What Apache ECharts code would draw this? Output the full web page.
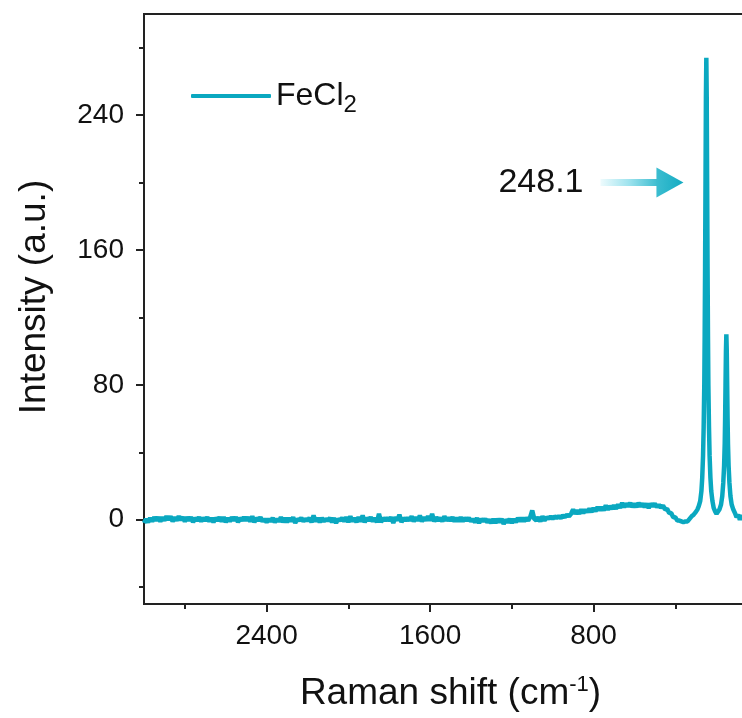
<!DOCTYPE html>
<html lang="en">
<head>
    <meta charset="UTF-8">
    <title>FeCl2 Raman</title>
    <style>
        * { box-sizing: border-box; margin: 0; padding: 0; }
        body { background: #fff; }
        #chart { width: 742px; height: 718px; }
    </style>
    <script src="https://cdn.jsdelivr.net/npm/echarts@6/dist/echarts.min.js"></script>
</head>
<body>
    <div id="chart"></div>
    <script>
        // baseline: Raman shift 3000 -> 330 cm-1 in steps of 10, intensity
        const baseStart = 3000;
        const baseStep = 10;
        const baseline = [
            -2, 0.5, -1.5, 1, -1, 1.5, -0.5, 1.5, -1, 1.5,
            -0.5, 2, 0, 2, -1, 1.5, -0.5, 2, 0, 1.5,
            -1, 1.5, -0.5, 1.5, -1.5, 1, -0.5, 1.5, -1, 1,
            -0.5, 1.5, -1, 1, -1.5, 1, -0.5, 1.5, -1, 1.5,
            -1.5, 1, -1, 1.5, -0.5, 1.5, -1.5, 1, -0.5, 1.5,
            -0.5, 1.5, -1, 2, -1.5, 1, -0.5, 1.5, -1, 0.5,
            -1.5, 0.5, -1, 1, -1.5, 0.5, -1, 1.5, -1.5, 1,
            -1.5, 1, -1, 1.5, -2, 0.5, -0.5, 1, -1, 0.5,
            -0.5, 1, -1.5, 2.5, -1, 1, -1.5, 1, -1, 0.5,
            -0.5, 1, -1.5, 1, -2, 0.5, -0.5, 1, -1, 1.5,
            -1.5, 2, -1, 1, -1.5, 1.5, -1, 2.5, -1.5, 1,
            -0.5, 1.5, -1, 1, -1.5, 3.5, -1.5, 1, -0.5, 1,
            -0.5, 1.5, -2, 1.5, -0.5, 3, -1.5, 1, -0.5, 1,
            -0.5, 2, -1, 1.5, -0.5, 2.5, -1, 1.5, -0.5, 2,
            -0.5, 3.5, -1, 1.5, -0.5, 1, -1, 2, -0.5, 1,
            -0.5, 1.5, -1, 1, -1, 1.5, -1, 1, -0.5, 1,
            -1, 0.5, -1.5, 1, -2, 0.5, -1, 0.5, -1.5, 0,
            -2, 0.5, -2, 0.5, -1.5, 0.5, -2.5, 0, -1.5, 0.5,
            -2, 0.5, -1.5, 1, -1, 1, -1, 1, -0.5, 1.5,
            5.5, 0.5, -0.5, 1.5, -1, 2, -0.5, 1.5, 0.5, 2,
            0.5, 2, 1, 2, 1, 2.5, 1.5, 3, 2, 3.5,
            6, 3.5, 5.5, 3.5, 6, 4, 6, 4.5, 6.5, 4.5,
            7, 5, 7.5, 5.5, 7.5, 5.5, 8.5, 6, 8, 6.5,
            8.5, 6.5, 9, 7, 10, 7.5, 9.5, 8, 10, 7.5,
            9.5, 7.5, 10, 8, 9.5, 7.5, 9.5, 7, 9.5, 8,
            9.5, 7.5, 9, 7, 8.5, 6, 6.5, 4, 4, 1.5,
            1.5, -0.5, -0.5, -1, -1.5, -1, -1, 0.5
        ];
        // peak region: Raman shift and intensity
        const peakShift = [
            320, 310, 300, 292, 285, 278, 272, 268, 264, 261,
            258, 256, 254, 252, 250, 248, 246, 244, 242, 240,
            238, 235, 232, 228, 224, 218, 212, 205, 198, 192,
            184, 176, 170, 165, 161, 158, 156, 154, 152, 150,
            148, 146, 144, 142, 139, 135, 130, 124, 116, 108,
            100, 92, 84, 76, 70
        ];
        const peakIntensity = [
            2, 3, 4.5, 6, 8, 11, 17, 25, 38, 55,
            80, 110, 150, 200, 250, 274, 250, 200, 150, 110,
            80, 55, 38, 25, 17, 11, 7, 5, 3.5, 4,
            6, 9, 14, 22, 32, 45, 60, 80, 100, 110,
            100, 80, 60, 45, 32, 22, 14, 9, 6, 4,
            1.5, 3, 0, 2.5, 1
        ];
        const xMajor = [2400, 1600, 800];
        const xMinor = [2800, 2000, 1200, 400];
        const yMajor = [0, 80, 160, 240];
        const yMinor = [-40, 40, 120, 200, 280];

        const lineColor = '#0aa8c0';
        const ink = '#111';
        const font = '"Liberation Sans", Arial, sans-serif';

        const points = baseline.map((v, i) => [baseStart - i * baseStep, v])
            .concat(peakShift.map((s, i) => [s, peakIntensity[i]]));

        const chart = echarts.init(document.getElementById('chart'));

        const xBase = {
            type: 'value', min: 0, max: 3000, inverse: true,
            splitLine: { show: false }
        };
        const yBase = {
            type: 'value', min: -50, max: 300,
            splitLine: { show: false }
        };
        const tickLine = { color: '#222', width: 2 };

        chart.setOption({
            animation: false,
            grid: {
                left: 144, right: -15, top: 14, bottom: 114,
                outerBoundsMode: 'none',
                containLabel: false,
                show: true, borderColor: '#222', borderWidth: 2
            },
            legend: {
                left: 186, top: 75,
                icon: 'roundRect',
                itemWidth: 80, itemHeight: 4,
                textStyle: {
                    fontFamily: font, fontSize: 32, color: ink,
                    rich: { sub: { fontFamily: font, fontSize: 24, padding: [18, 0, 0, 0], color: ink } }
                },
                formatter: () => 'FeCl{sub|2}'
            },
            xAxis: [
                Object.assign({}, xBase, {
                    name: 'Raman shift (cm{sup|-1})',
                    nameLocation: 'middle',
                    nameGap: 70,
                    nameTextStyle: {
                        fontFamily: font, fontSize: 37, color: ink,
                        rich: { sup: { fontFamily: font, fontSize: 22, padding: [0, 0, 18, 0], color: ink } }
                    },
                    axisLine: { onZero: false, lineStyle: tickLine },
                    axisTick: { length: 8, lineStyle: tickLine, customValues: xMajor },
                    axisLabel: {
                        customValues: xMajor, margin: 18, fontFamily: font, fontSize: 28, color: ink,
                        formatter: v => String(v)
                    }
                }),
                Object.assign({}, xBase, {
                    position: 'bottom',
                    axisLine: { show: false, onZero: false },
                    axisTick: { length: 5, lineStyle: tickLine, customValues: xMinor },
                    axisLabel: { show: false }
                })
            ],
            yAxis: [
                Object.assign({}, yBase, {
                    position: 'left',
                    axisLine: { onZero: false, lineStyle: tickLine },
                    axisTick: { length: 8, lineStyle: tickLine, customValues: yMajor },
                    axisLabel: { customValues: yMajor, margin: 20, fontFamily: font, fontSize: 28, color: ink }
                }),
                Object.assign({}, yBase, {
                    position: 'left',
                    axisLine: { show: false, onZero: false },
                    axisTick: { length: 5, lineStyle: tickLine, customValues: yMinor },
                    axisLabel: { show: false }
                })
            ],
            series: [{
                name: 'FeCl2',
                type: 'line',
                data: points,
                showSymbol: false,
                symbol: 'none',
                color: lineColor,
                lineStyle: { color: lineColor, width: 4.5 },
                z: 5
            }]
        });

        // y-axis title and the arrow annotation pointing at the 248.1 peak
        const px = p => chart.convertToPixel({ gridIndex: 0 }, p);
        const mid = px([3000, 125]);
        const textEnd = px([849, 200]);
        const shaftStart = px([766, 200]);
        const headBase = px([492, 200]);
        const tip = px([360, 200]);
        const cy = tip[1];

        chart.setOption({
            graphic: [
                {
                    type: 'text',
                    x: 35, y: mid[1] - 12,
                    rotation: Math.PI / 2,
                    style: {
                        text: 'Intensity (a.u.)', fontFamily: font, fontSize: 37, fill: ink,
                        align: 'center', verticalAlign: 'middle'
                    }
                },
                {
                    type: 'text',
                    x: textEnd[0], y: cy,
                    style: {
                        text: '248.1', fontFamily: font, fontSize: 34, fill: ink,
                        align: 'right', verticalAlign: 'middle'
                    }
                },
                {
                    type: 'rect',
                    shape: { x: shaftStart[0], y: cy - 3.5, width: headBase[0] - shaftStart[0] + 1, height: 7 },
                    style: {
                        fill: new echarts.graphic.LinearGradient(0, 0, 1, 0, [
                            { offset: 0, color: '#eefbfd' },
                            { offset: 0.5, color: '#9ee3ee' },
                            { offset: 1, color: '#3dbdd0' }
                        ])
                    }
                },
                {
                    type: 'polygon',
                    shape: { points: [[headBase[0], cy - 15], [tip[0], cy], [headBase[0], cy + 15]] },
                    style: {
                        fill: new echarts.graphic.LinearGradient(0, 0, 1, 0, [
                            { offset: 0, color: '#3cbdd0' },
                            { offset: 1, color: '#14abc2' }
                        ])
                    }
                }
            ]
        });
    </script>
</body>
</html>
